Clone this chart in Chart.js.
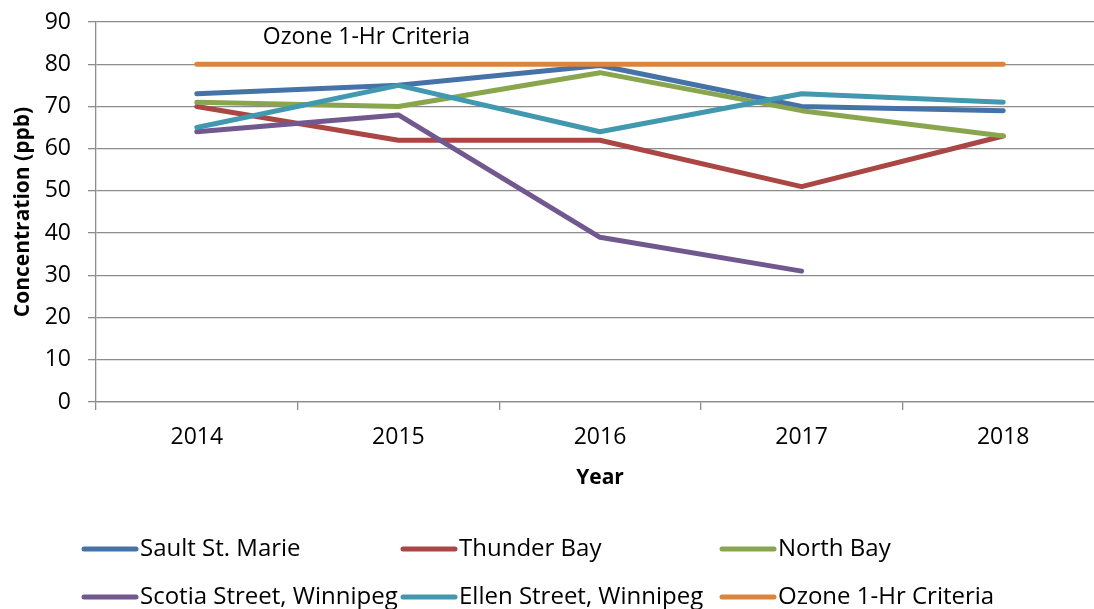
<!DOCTYPE html>
<html>
<head>
<meta charset="utf-8">
<script src="https://cdn.jsdelivr.net/npm/chart.js@4.4.1/dist/chart.umd.min.js"></script>
<style>
  html, body { margin: 0; padding: 0; background: #fff; overflow: hidden; }
  #wrap { position: relative; width: 1110px; height: 609px; }
</style>
</head>
<body>
<div id="wrap"><canvas id="chart"></canvas></div>
<script>
const years = ['2014', '2015', '2016', '2017', '2018']
const saultStMarie = [73, 75, 79.7, 70, 69]
const thunderBay = [70, 62, 62, 51, 63]
const northBay = [71, 70, 78, 69, 63]
const scotiaStreet = [64, 68, 39, 31, null]
const ellenStreet = [65, 75, 64, 73, 71]
const ozoneCriteria = [80, 80, 80, 80, 80]

const seriesNames = ['Sault St. Marie', 'Thunder Bay', 'North Bay', 'Scotia Street, Winnipeg', 'Ellen Street, Winnipeg', 'Ozone 1-Hr Criteria']
const seriesData = [saultStMarie, thunderBay, northBay, scotiaStreet, ellenStreet, ozoneCriteria]
const colors = ['#4572a7', '#aa4643', '#89a54e', '#71588f', '#4198af', '#db843d']

const FONT = '"Open Sans", sans-serif'
const gridColor = '#8c8c8c'

// legend + criteria label drawn on the canvas
const extras = {
  id: 'extras',
  afterDraw(chart) {
    const ctx = chart.ctx
    const { x, y } = chart.scales
    ctx.save()
    ctx.font = '23px ' + FONT
    ctx.fillStyle = '#000'
    ctx.textAlign = 'center'
    ctx.textBaseline = 'middle'
    ctx.fillText('Ozone 1-Hr Criteria', x.getPixelForValue(1) - 32, y.getPixelForValue(80) - 27)

    ctx.font = '24px ' + FONT
    ctx.textAlign = 'left'
    ctx.lineCap = 'round'
    ctx.lineWidth = 5
    chart.data.datasets.forEach((ds, i) => {
      const col = i % 3
      const row = Math.floor(i / 3)
      const lx = 84 + col * 319
      const ly = 549 + row * 48
      ctx.strokeStyle = ds.borderColor
      ctx.beginPath()
      ctx.moveTo(lx, ly)
      ctx.lineTo(lx + 52, ly)
      ctx.stroke()
      ctx.fillText(ds.label, lx + 56, ly)
    })
    ctx.restore()
  }
}

new Chart(document.getElementById('chart'), {
  type: 'line',
  data: {
    labels: years,
    datasets: seriesNames.map((name, i) => ({
      label: name,
      data: seriesData[i],
      borderColor: colors[i],
      backgroundColor: colors[i],
      borderWidth: 5,
      borderCapStyle: 'round',
      borderJoinStyle: 'round',
      pointRadius: 0,
      tension: 0,
      order: seriesNames.length - i
    }))
  },
  options: {
    responsive: true,
    maintainAspectRatio: false,
    animation: false,
    layout: { padding: { left: 0, top: 22, right: 6, bottom: 117 } },
    plugins: {
      legend: { display: false },
      tooltip: { enabled: false }
    },
    scales: {
      x: {
        offset: true,
        afterFit(scale) {
          scale.height = 90
          scale.paddingLeft = 0
          scale.paddingRight = 0
        },
        grid: { offset: true, drawOnChartArea: false, drawTicks: true, tickLength: 8, color: gridColor, lineWidth: 1.3 },
        border: { color: gridColor, width: 1.3 },
        ticks: { color: '#000', font: { family: FONT, size: 23 }, padding: 14, maxRotation: 0 },
        title: { display: true, text: 'Year', color: '#000', font: { family: FONT, size: 21, weight: 'bold' }, padding: { top: 9, bottom: 1 } }
      },
      y: {
        min: 0,
        max: 90,
        afterFit(scale) {
          scale.width = 96
          scale.paddingTop = 0
          scale.paddingBottom = 0
        },
        grid: { color: gridColor, lineWidth: 1.3, tickLength: 8 },
        border: { color: gridColor, width: 1.3 },
        ticks: { stepSize: 10, color: '#000', font: { family: FONT, size: 23 }, padding: 17 },
        title: { display: true, text: 'Concentration (ppb)', color: '#000', font: { family: FONT, size: 21, weight: 'bold' }, padding: { top: 10, bottom: 0 } }
      }
    }
  },
  plugins: [extras]
})
</script>
</body>
</html>
